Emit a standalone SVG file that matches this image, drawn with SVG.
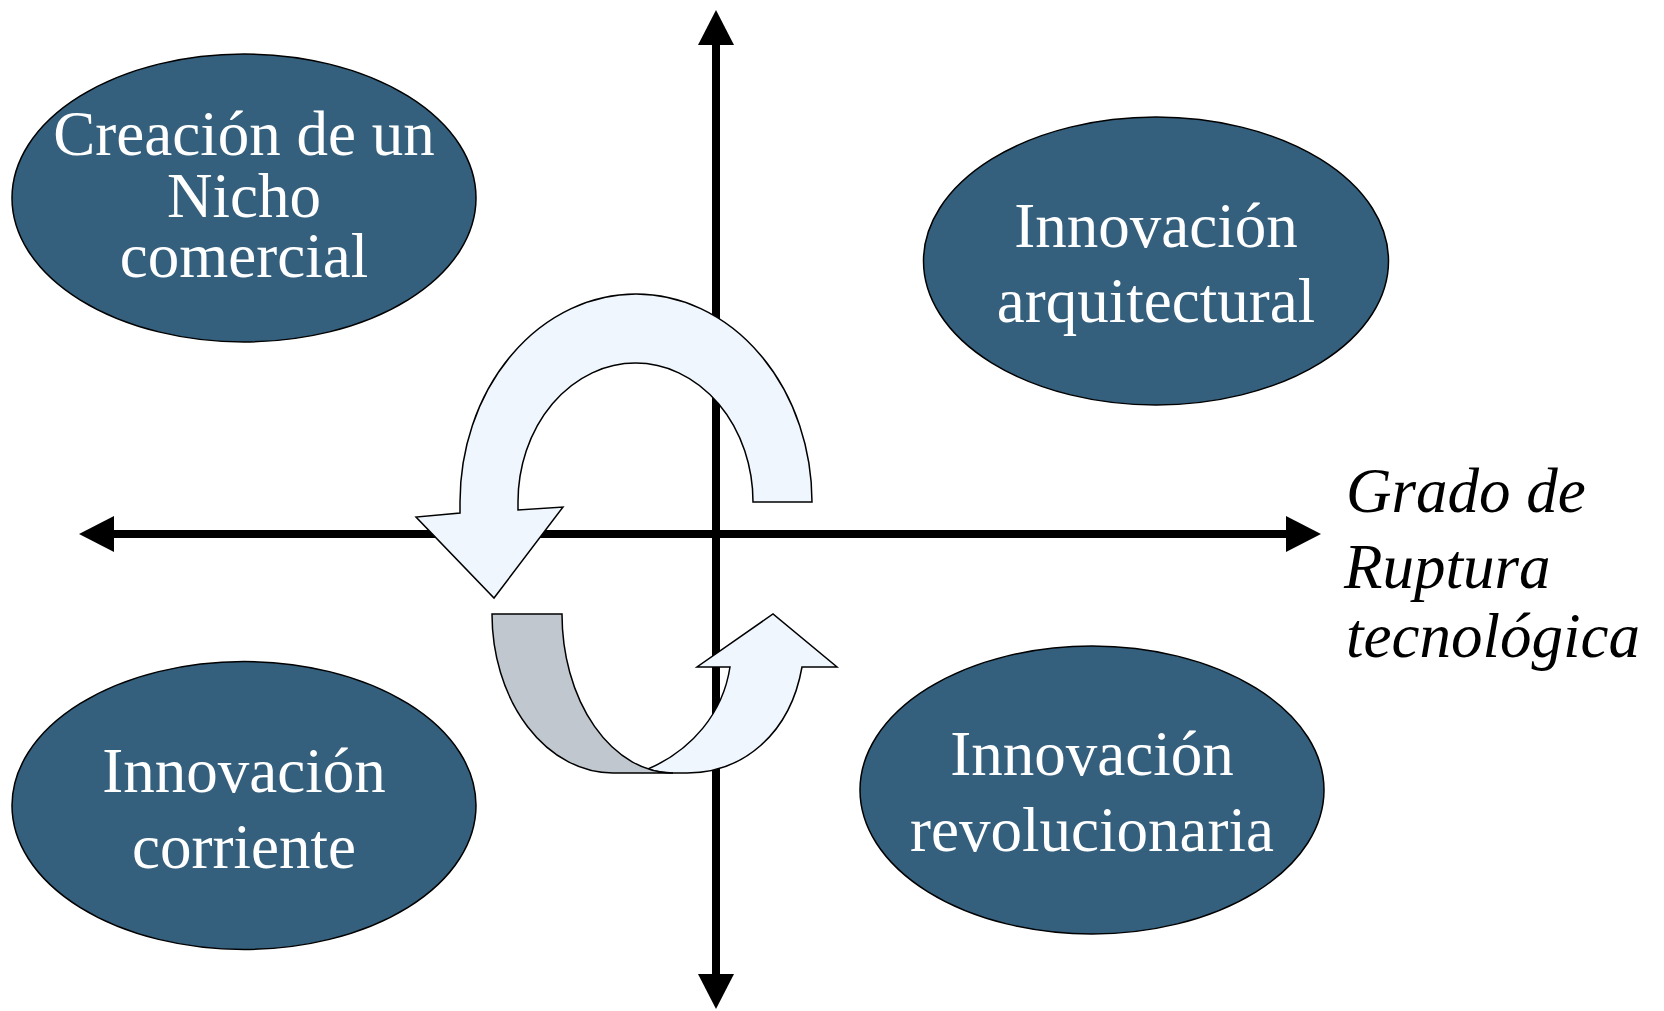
<svg xmlns="http://www.w3.org/2000/svg" width="1664" height="1011" viewBox="0 0 1664 1011">
<style>
.node ellipse{fill:#35607D;stroke:#000;stroke-width:1.5}
.node text{fill:#fff;font-family:"Liberation Serif","Times New Roman",serif;font-size:63px;text-anchor:middle}
.axis{stroke:#000;stroke-width:8;fill:none}
.lbl{fill:#000;font-family:"Liberation Serif","Times New Roman",serif;font-size:63px;font-style:italic}
.cyc{stroke:#000;stroke-width:1.5;stroke-linejoin:miter}
</style>
<defs>
<marker id="ah" markerUnits="userSpaceOnUse" markerWidth="40" markerHeight="40" refX="2" refY="18" orient="auto-start-reverse">
<path d="M0,0 L35,18 L0,36 Z" fill="#000"/>
</marker>
</defs>
<rect width="1664" height="1011" fill="#fff"/>
<g id="connectors">
<line class="axis" x1="112" y1="534" x2="1288" y2="534" marker-start="url(#ah)" marker-end="url(#ah)"/>
<line class="axis" x1="716" y1="43" x2="716" y2="976" marker-start="url(#ah)" marker-end="url(#ah)"/>
</g>
<g id="node-nicho" class="node">
<ellipse cx="244" cy="198" rx="232" ry="144"/>
<text x="244" y="155">Creación de un</text>
<text x="244" y="217">Nicho</text>
<text x="244" y="277">comercial</text>
</g>
<g id="node-arquitectural" class="node">
<ellipse cx="1156" cy="261" rx="232.5" ry="144"/>
<text x="1156" y="247">Innovación</text>
<text x="1156" y="322">arquitectural</text>
</g>
<g id="node-corriente" class="node">
<ellipse cx="244" cy="805.5" rx="232" ry="144"/>
<text x="244" y="792">Innovación</text>
<text x="244" y="868">corriente</text>
</g>
<g id="node-revolucionaria" class="node">
<ellipse cx="1092" cy="790" rx="232" ry="144"/>
<text x="1092" y="775">Innovación</text>
<text x="1092" y="851">revolucionaria</text>
</g>
<g id="axis-label">
<text class="lbl" x="1346" y="512">Grado de</text>
<text class="lbl" x="1344" y="588">Ruptura</text>
<text class="lbl" x="1346" y="657">tecnológica</text>
</g>
<g id="cycle">
<path class="cyc" fill="#EFF6FD" d="M812,502 A176,208 0 0 0 460,502 L460,513 L416,517 L494,598 L563,507 L518,510 L518,502 A117.5,139 0 0 1 753,502 Z"/>
<path class="cyc" fill="#EFF6FD" d="M648,769 C692,750 723,713 730,667 L697,667 L773,614 L837,667 L802,667 C790,735 742,773 687,773 L673,773 A111,159 0 0 1 648,769 Z"/>
<path class="cyc" fill="#C0C7CE" d="M492,614 L562,614 A111,159 0 0 0 673,773 L613,773 A121,159 0 0 1 492,614 Z"/>
</g>
</svg>
